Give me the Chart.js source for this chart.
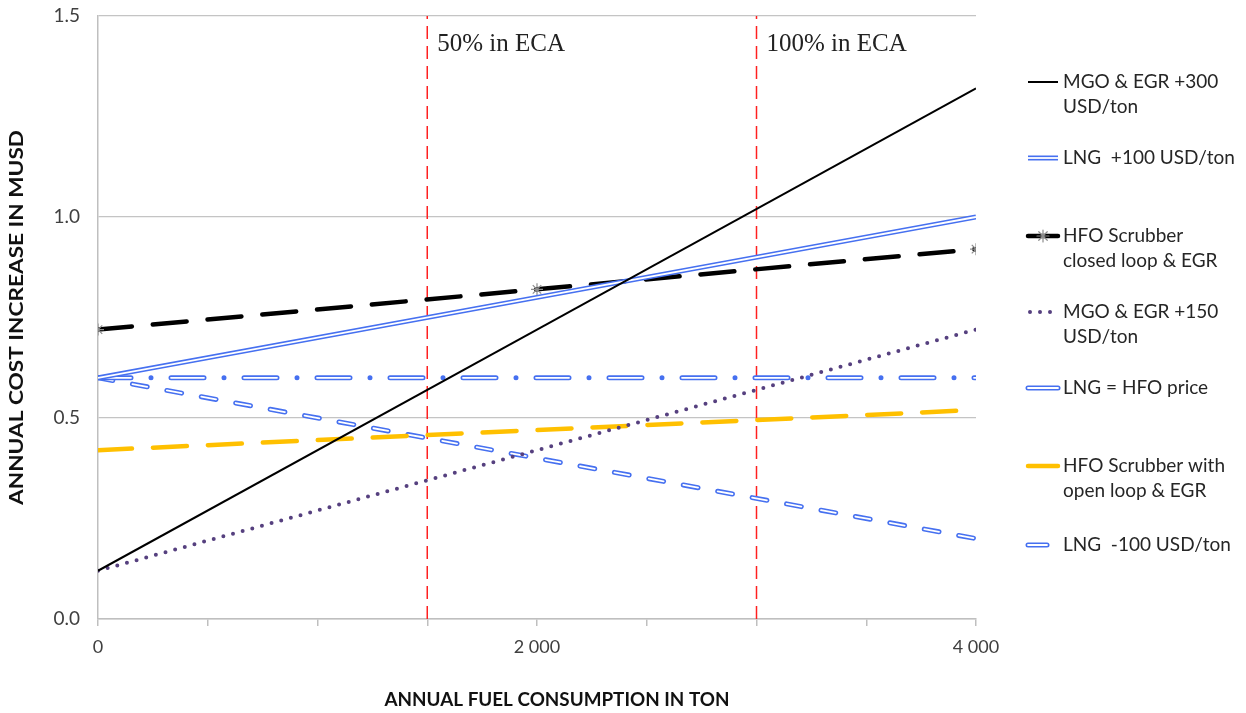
<!DOCTYPE html>
<html>
<head>
<meta charset="utf-8">
<script src="https://cdn.jsdelivr.net/npm/chart.js@4"></script>
<style>
  body { margin: 0; background: #fff; }
  #wrap { width: 1246px; height: 713px; }
</style>
</head>
<body>
<div id="wrap"><canvas id="costChart" width="1246" height="713"></canvas></div>
<script>
// data (x = annual fuel consumption, ton; y = MUSD)
const fuelTon = [0, 2000, 4000];
const mgoEgr300 = [0.12, 0.72, 1.32];
const lngPlus100 = [0.60, 0.80, 1.00];
const hfoClosedLoop = [0.72, 0.82, 0.92];
const mgoEgr150 = [0.12, 0.42, 0.72];
const lngEqualHfo = [0.60, 0.60, 0.60];
const hfoOpenLoop = [0.42, 0.47, 0.52];
const lngMinus100 = [0.60, 0.40, 0.20];

const seriesLabels = [
    ['MGO & EGR +300', 'USD/ton'],
    ['LNG  +100 USD/ton'],
    ['HFO Scrubber', 'closed loop & EGR'],
    ['MGO & EGR +150', 'USD/ton'],
    ['LNG = HFO price'],
    ['HFO Scrubber with', 'open loop & EGR'],
    ['LNG  -100 USD/ton']
];
const seriesValues = [mgoEgr300, lngPlus100, hfoClosedLoop, mgoEgr150, lngEqualHfo, hfoOpenLoop, lngMinus100];

const ecaX = [1500, 3000];
const ecaLabels = ['50% in ECA', '100% in ECA'];
const xTitle = 'ANNUAL FUEL CONSUMPTION IN TON';
const yTitle = 'ANNUAL COST INCREASE IN MUSD';

// styling
const BLUE = '#4670f0';
const styles = [
    { color: '#000000', width: 2, dash: [], cap: 'butt' },
    { color: BLUE, width: 5, dash: [], cap: 'butt', double: true },
    { color: '#000000', width: 4.5, dash: [34, 21], cap: 'round', star: true },
    { color: '#56407f', width: 4, dash: [0, 10], cap: 'round' },
    { color: BLUE, width: 5, dash: [33, 20, 0, 20], innerDash: [33, 40], cap: 'round', double: true },
    { color: '#ffc000', width: 4.5, dash: [34, 21], cap: 'round' },
    { color: BLUE, width: 5, dash: [15, 20], cap: 'round', double: true }
];
const legendY = [82, 158, 236, 312, 388, 466, 545];

Chart.defaults.font.family = 'Lato, "Open Sans", sans-serif';
Chart.defaults.color = '#404040';

const datasets = [];
seriesValues.forEach((vals, i) => {
    const st = styles[i];
    const pts = fuelTon.map((x, k) => ({ x: x, y: vals[k] }));
    datasets.push({
        label: seriesLabels[i].join(' '),
        data: pts,
        borderColor: st.color,
        borderWidth: st.width,
        borderDash: st.dash,
        borderCapStyle: st.cap,
        pointRadius: st.star ? 6 : 0,
        pointStyle: 'star',
        pointBorderColor: '#8c8c8c',
        pointBorderWidth: 1.2,
        tension: 0,
        fill: false,
        order: 20 + i * 2 + 1
    });
    if (st.double) {
        datasets.push({
            label: '',
            data: pts,
            borderColor: '#ffffff',
            borderWidth: 1.8,
            borderDash: st.innerDash || st.dash,
            borderCapStyle: st.cap,
            pointRadius: 0,
            tension: 0,
            fill: false,
            order: 20 + i * 2
        });
    }
});
ecaX.forEach(x => {
    datasets.push({
        label: '',
        data: [{ x: x, y: 0 }, { x: x, y: 1.5 }],
        borderColor: '#ff2020',
        borderWidth: 1.5,
        borderDash: [13, 7],
        pointRadius: 0,
        fill: false,
        order: 100
    });
});

// text stretched to a set length, like the pasted original
function stretchedText(ctx, text, cx, cy, length, angle) {
    ctx.save();
    ctx.translate(cx, cy);
    ctx.rotate(angle);
    const w = ctx.measureText(text).width;
    ctx.scale(length / w, 1);
    ctx.textAlign = 'center';
    ctx.textBaseline = 'middle';
    ctx.fillText(text, 0, 0);
    ctx.restore();
}

// axis titles, text above the ECA lines and the legend on the right
const extrasPlugin = {
    id: 'extras',
    afterDraw(chart) {
        const ctx = chart.ctx;
        const xs = chart.scales.x, ys = chart.scales.y;
        const area = chart.chartArea;
        ctx.save();
        ctx.fillStyle = '#111';
        ctx.font = 'bold 18px Lato, "Open Sans", sans-serif';
        stretchedText(ctx, yTitle, 17, (area.top + area.bottom) / 2, 375, -Math.PI / 2);
        stretchedText(ctx, xTitle, 557, 700, 345, 0);

        ctx.fillStyle = '#222';
        ctx.font = '25px "Liberation Serif", "DejaVu Serif", serif';
        ctx.textBaseline = 'middle';
        ecaX.forEach((x, i) => {
            ctx.fillText(ecaLabels[i], xs.getPixelForValue(x) + 10, ys.getPixelForValue(1.43));
        });

        seriesLabels.forEach((lines, i) => {
            const st = styles[i];
            const y = legendY[i];
            const x0 = 1028, x1 = i === 6 ? 1047 : 1058;
            ctx.lineCap = st.cap;
            ctx.setLineDash(i === 6 || i === 4 ? [] : st.dash);
            ctx.strokeStyle = st.color;
            ctx.lineWidth = st.width;
            ctx.beginPath();
            ctx.moveTo(i === 3 ? 1030 : x0, y);
            ctx.lineTo(x1, y);
            ctx.stroke();
            if (st.double) {
                ctx.strokeStyle = '#fff';
                ctx.lineWidth = 1.8;
                ctx.beginPath();
                ctx.moveTo(x0, y);
                ctx.lineTo(x1, y);
                ctx.stroke();
            }
            if (st.star) {
                ctx.setLineDash([]);
                ctx.strokeStyle = '#8c8c8c';
                ctx.lineWidth = 1.2;
                Chart.helpers.drawPoint(ctx, { pointStyle: 'star', radius: 6, rotation: 0, borderWidth: 1.2 }, 1043, y);
            }
            ctx.setLineDash([]);
            ctx.fillStyle = '#262626';
            ctx.font = '19px Lato, "Open Sans", sans-serif';
            ctx.textBaseline = 'middle';
            lines.forEach((t, k) => ctx.fillText(t, 1063, y + k * 25));
        });
        ctx.restore();
    }
};

const fmtThousands = v => String(v).replace(/\B(?=(\d{3})+(?!\d))/g, ' ');

new Chart(document.getElementById('costChart').getContext('2d'), {
    type: 'line',
    data: { datasets: datasets },
    options: {
        responsive: false,
        animation: false,
        layout: { padding: { top: 16, right: 270, left: 0, bottom: 0 } },
        plugins: {
            legend: { display: false },
            tooltip: { enabled: false }
        },
        scales: {
            x: {
                type: 'linear',
                min: 0,
                max: 4000,
                afterFit: s => { s.height = 94; s.paddingLeft = 0; s.paddingRight = 0; },
                ticks: {
                    stepSize: 500,
                    autoSkip: false,
                    maxRotation: 0,
                    padding: 10,
                    font: { size: 18 },
                    callback: v => (v % 2000 === 0 ? fmtThousands(v) : '')
                },
                grid: { drawOnChartArea: false, drawTicks: true, tickLength: 7, color: '#bfbfbf', lineWidth: 1.5 },
                border: { color: '#bfbfbf', width: 1.5 }
            },
            y: {
                min: 0,
                max: 1.5,
                afterFit: s => { s.width = 98; s.paddingTop = 0; s.paddingBottom = 0; },
                ticks: {
                    stepSize: 0.5,
                    padding: 18,
                    font: { size: 19 },
                    callback: v => v.toFixed(1)
                },
                grid: { color: '#c4c4c4', lineWidth: 1.2, drawTicks: false },
                border: { color: '#bfbfbf', width: 1.5 }
            }
        }
    },
    plugins: [extrasPlugin]
});
</script>
</body>
</html>
